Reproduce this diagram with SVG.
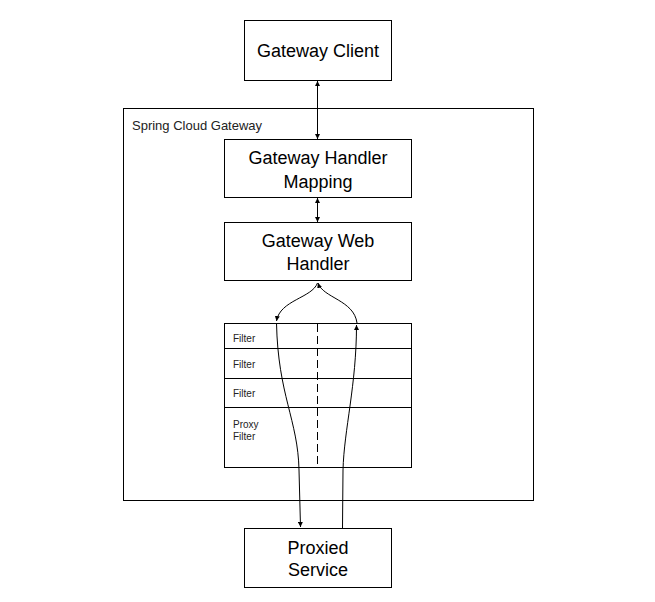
<svg xmlns="http://www.w3.org/2000/svg" width="655" height="602" viewBox="0 0 655 602">
<defs>
<marker id="arr" viewBox="0 0 10 10" refX="10" refY="5" markerWidth="5" markerHeight="5" markerUnits="userSpaceOnUse" orient="auto-start-reverse">
<path d="M0,0 L10,5 L0,10 z" fill="#000"/>
</marker>
</defs>
<style>
.box{fill:#fff;stroke:#000;stroke-width:1}
.big{font-family:"Liberation Sans",Arial,sans-serif;font-size:18px;fill:#000;text-anchor:middle}
.mid{font-family:"Liberation Sans",Arial,sans-serif;font-size:13px;fill:#222}
.sm{font-family:"Liberation Sans",Arial,sans-serif;font-size:10px;fill:#222}
.ln{fill:none;stroke:#000;stroke-width:1}
</style>
<rect width="655" height="602" fill="#fff"/>
<g id="gateway">
<rect class="box" x="123.5" y="108.5" width="410" height="392"/>
<text class="mid" x="132" y="130">Spring Cloud Gateway</text>
</g>
<g id="client">
<rect class="box" x="244.5" y="20.5" width="147" height="60"/>
<text class="big" x="318" y="57">Gateway Client</text>
</g>
<g id="mapping">
<rect class="box" x="224.5" y="139.5" width="187" height="58"/>
<text class="big" x="318" y="164">Gateway Handler</text>
<text class="big" x="318" y="188">Mapping</text>
</g>
<g id="webhandler">
<rect class="box" x="224.5" y="222.5" width="187" height="58"/>
<text class="big" x="318" y="247">Gateway Web</text>
<text class="big" x="318" y="270">Handler</text>
</g>
<g id="filters">
<rect class="box" x="224.5" y="323.5" width="187" height="144"/>
<line class="ln" x1="224.5" y1="348.5" x2="411.5" y2="348.5"/>
<line class="ln" x1="224.5" y1="378.5" x2="411.5" y2="378.5"/>
<line class="ln" x1="224.5" y1="407.5" x2="411.5" y2="407.5"/>
<line class="ln" x1="317.5" y1="324" x2="317.5" y2="467" stroke-dasharray="8,4"/>
<text class="sm" x="233" y="342">Filter</text>
<text class="sm" x="233" y="368">Filter</text>
<text class="sm" x="233" y="397">Filter</text>
<text class="sm" x="233" y="428">Proxy</text>
<text class="sm" x="233" y="440">Filter</text>
</g>
<g id="proxied">
<rect class="box" x="244.5" y="528.5" width="147" height="59"/>
<text class="big" x="318" y="554">Proxied</text>
<text class="big" x="318" y="576">Service</text>
</g>
<g id="connectors">
<line class="ln" x1="317.5" y1="81" x2="317.5" y2="139" marker-start="url(#arr)" marker-end="url(#arr)"/>
<line class="ln" x1="317.5" y1="198" x2="317.5" y2="222" marker-start="url(#arr)" marker-end="url(#arr)"/>
<path class="ln" d="M317.5,283 C312,298 280,300 276.5,321" marker-end="url(#arr)"/>
<path class="ln" d="M357,323 C354,300 323,298 318,283" marker-end="url(#arr)"/>
<path class="ln" d="M276.5,323 C278,395 298,420 299,470 L300.5,527" marker-end="url(#arr)"/>
<path class="ln" d="M342.5,528 L343,470 C344,430 356.5,385 356.5,325" marker-end="url(#arr)"/>
</g>
</svg>
